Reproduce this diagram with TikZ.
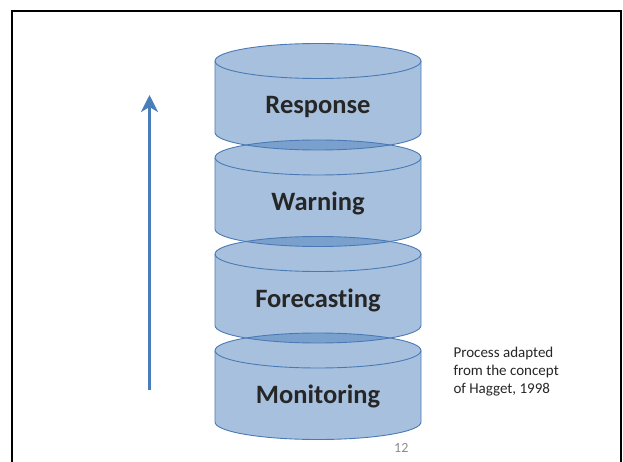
\documentclass[tikz,border=0pt]{standalone}
\usepackage{fontspec}
\setmainfont{Carlito}[Ligatures=NoCommon]
\usetikzlibrary{arrows.meta}
\definecolor{acc}{HTML}{4F81BD}
\definecolor{edgeblue}{HTML}{4A7AB5}
\definecolor{arrowblue}{HTML}{4A7EBB}
\definecolor{txt}{HTML}{262626}
\definecolor{pagegrey}{HTML}{8C8C8C}
\tikzset{
  cylfill/.style={fill=acc, fill opacity=0.5},
  cyledge/.style={draw=edgeblue, line width=0.9pt},
  lbl/.style={font=\bfseries\fontsize{26.5}{30}\selectfont, text=txt, anchor=base, inner sep=0pt},
  note/.style={font=\fontsize{15}{17.8}\selectfont, text=txt, anchor=base west, inner sep=0pt, align=left},
  pagenum/.style={font=\fontsize{14}{17}\selectfont, text=pagegrey, anchor=base west, inner sep=0pt},
  frame/.style={draw=black, line width=2.3pt},
  uparrow/.style={draw=arrowblue, line width=3.6pt, -{Stealth[length=17pt,width=17pt,inset=5pt]}}
}
\newcommand\cylbody[1]{%
  (215,#1) -- (215,#1-71.5) arc[start angle=180, end angle=360, x radius=103, y radius=17.5]
  -- (421,#1) arc[start angle=0, end angle=180, x radius=103, y radius=17.5] -- cycle}
\newcommand\cylfront[1]{%
  (215,#1) arc[start angle=180, end angle=360, x radius=103, y radius=17.5]}
\begin{document}
\begin{tikzpicture}[x=1pt,y=1pt]
\useasboundingbox (0,0) rectangle (623,461);
% frame
\draw[frame] (12,-5) -- (12,449.7) -- (621,449.7) -- (621,-5);
% cylinders (fills)
\foreach \t in {400,303.5,207,110.5}{
  \path[cylfill] \cylbody{\t};
}
% cylinders (outlines)
\foreach \t in {400,303.5,207,110.5}{
  \draw[cyledge] \cylbody{\t};
  \draw[cyledge] \cylfront{\t};
}
% labels
\node[lbl] (response) at (318,347) {Response};
\node[lbl] (warning) at (318,250.5) {Warning};
\node[lbl] (forecasting) at (318,154) {Forecasting};
\node[lbl] (monitoring) at (318,57.5) {Monitoring};
% arrow
\coordinate (arrowstart) at (149.5,71);
\coordinate (arrowend) at (149.5,366);
\draw[uparrow] (arrowstart) -- (arrowend);
% note (base anchor is the last line's baseline)
\node[note] (source) at (453.3,67.5) {Process adapted\\from the concept\\of Hagget, 1998};
\node[pagenum] (pageno) at (394,8.7) {12};
\end{tikzpicture}
\end{document}
